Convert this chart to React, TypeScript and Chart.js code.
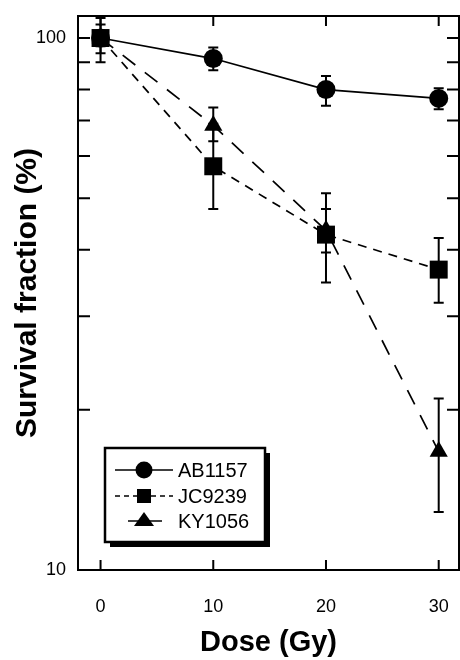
import React, { useEffect, useRef } from "react";
import { Chart, registerables } from "chart.js";

Chart.register(...registerables);

const doses = [0, 10, 20, 30];
const seriesNames = ["AB1157", "JC9239", "KY1056"];
const ab1157 = [100, 91.5, 80, 77];
const ab1157Lo = [93.6, 87, 74.6, 73.5];
const ab1157Hi = [106, 96, 84.8, 80.5];
const jc9239 = [100, 57.4, 42.7, 36.7];
const jc9239Lo = [90, 47.7, 34.7, 31.8];
const jc9239Hi = [109, 69, 51.1, 42.1];
const ky1056 = [100, 68.5, 43.5, 16.7];
const ky1056Lo = [96.5, 64, 39.5, 12.85];
const ky1056Hi = [103, 74, 47.7, 21];
const xTicks = [0, 10, 20, 30];
const yLabelTicks = [10, 100];
const yFrameTicks = [20, 30, 40, 50, 60, 70, 80, 90, 100];

const FONT = "'Liberation Sans', Arial, sans-serif";

const values = [ab1157, jc9239, ky1056];
const lows = [ab1157Lo, jc9239Lo, ky1056Lo];
const highs = [ab1157Hi, jc9239Hi, ky1056Hi];
const styles = [
  { dash: [] as number[], point: "circle", radius: 9.5 },
  { dash: [9, 7], point: "rect", radius: 12.7 },
  { dash: [16, 12], point: "triangle", radius: 10.5 },
];

const customPlugin = {
  id: "custom",
  beforeDatasetsDraw(chart: any) {
    const ctx = chart.ctx;
    const xs = chart.scales.x;
    const ys = chart.scales.y;
    ctx.save();
    ctx.strokeStyle = "#000";
    ctx.lineWidth = 2;
    for (let i = 0; i < values.length; i++) {
      for (let j = 0; j < doses.length; j++) {
        const x = xs.getPixelForValue(doses[j]);
        const yl = ys.getPixelForValue(lows[i][j]);
        const yh = ys.getPixelForValue(highs[i][j]);
        ctx.beginPath();
        ctx.moveTo(x, yh);
        ctx.lineTo(x, yl);
        ctx.moveTo(x - 5, yh);
        ctx.lineTo(x + 5, yh);
        ctx.moveTo(x - 5, yl);
        ctx.lineTo(x + 5, yl);
        ctx.stroke();
      }
    }
    ctx.restore();
  },
  afterDraw(chart: any) {
    const ctx = chart.ctx;
    const { left, right, top, bottom } = chart.chartArea;
    const xs = chart.scales.x;
    const ys = chart.scales.y;
    ctx.save();
    ctx.strokeStyle = "#000";
    ctx.lineWidth = 2;
    ctx.strokeRect(left, top, right - left, bottom - top);
    ctx.beginPath();
    for (const v of xTicks) {
      const x = xs.getPixelForValue(v);
      ctx.moveTo(x, bottom);
      ctx.lineTo(x, bottom - 10);
      ctx.moveTo(x, top);
      ctx.lineTo(x, top + 10);
    }
    for (const v of yFrameTicks) {
      const y = ys.getPixelForValue(v);
      ctx.moveTo(left, y);
      ctx.lineTo(left + 12, y);
      ctx.moveTo(right, y);
      ctx.lineTo(right - 12, y);
    }
    ctx.stroke();

    // legend
    const lx = left + 27;
    const ly = bottom - 122;
    const lw = 160;
    const lh = 94;
    ctx.fillStyle = "#000";
    ctx.fillRect(lx + 5, ly + 5, lw, lh);
    ctx.fillStyle = "#fff";
    ctx.fillRect(lx, ly, lw, lh);
    ctx.lineWidth = 2.5;
    ctx.strokeRect(lx, ly, lw, lh);

    const rowY = [ly + 22, ly + 48, ly + 73];
    const mx = lx + 39;
    ctx.lineWidth = 1.5;
    ctx.fillStyle = "#000";
    ctx.beginPath();
    ctx.moveTo(lx + 10, rowY[0]);
    ctx.lineTo(lx + 68, rowY[0]);
    ctx.stroke();
    ctx.beginPath();
    ctx.arc(mx, rowY[0], 8.5, 0, Math.PI * 2);
    ctx.fill();
    ctx.setLineDash([5, 4]);
    ctx.beginPath();
    ctx.moveTo(lx + 10, rowY[1]);
    ctx.lineTo(lx + 68, rowY[1]);
    ctx.stroke();
    ctx.setLineDash([]);
    ctx.fillRect(mx - 7, rowY[1] - 7, 14, 14);
    ctx.beginPath();
    ctx.moveTo(lx + 23, rowY[2]);
    ctx.lineTo(lx + 57, rowY[2]);
    ctx.stroke();
    ctx.beginPath();
    ctx.moveTo(mx, rowY[2] - 9);
    ctx.lineTo(mx + 10, rowY[2] + 5);
    ctx.lineTo(mx - 10, rowY[2] + 5);
    ctx.closePath();
    ctx.fill();

    ctx.font = `20px ${FONT}`;
    ctx.textBaseline = "middle";
    ctx.textAlign = "left";
    for (let i = 0; i < seriesNames.length; i++) {
      ctx.fillText(seriesNames[i], lx + 73, rowY[i] + 1);
    }
    ctx.restore();
  },
};

export default function App() {
  const ref = useRef<HTMLCanvasElement | null>(null);
  useEffect(() => {
    if (!ref.current) return;
    const chart = new Chart(ref.current, {
      type: "line",
      data: {
        datasets: seriesNames.map((name, i) => ({
          label: name,
          data: doses.map((d, j) => ({ x: d, y: values[i][j] })),
          borderColor: "#000",
          backgroundColor: "#000",
          borderWidth: 1.7,
          borderDash: styles[i].dash,
          pointStyle: styles[i].point as any,
          pointRadius: styles[i].radius,
          pointHoverRadius: styles[i].radius,
          pointBackgroundColor: "#000",
          pointBorderColor: "#000",
          pointBorderWidth: 0,
          fill: false,
          tension: 0,
        })),
      },
      options: {
        animation: false,
        responsive: false,
        devicePixelRatio: 1,
        layout: { autoPadding: false, padding: { top: 16, right: 1, left: 0, bottom: 0 } },
        plugins: { legend: { display: false }, tooltip: { enabled: false } },
        scales: {
          x: {
            type: "linear",
            min: -2,
            max: 31.8,
            afterBuildTicks: (s: any) => {
              s.ticks = xTicks.map((v) => ({ value: v }));
            },
            afterFit: (s: any) => {
              s.height = 90;
              s.paddingLeft = 0;
              s.paddingRight = 0;
            },
            grid: { display: false, drawTicks: false },
            border: { display: false },
            ticks: {
              color: "#000",
              font: { family: FONT, size: 18 },
              padding: 26,
              maxRotation: 0,
              callback: (v: any) => String(v),
            },
            title: {
              display: true,
              text: "Dose (Gy)",
              color: "#000",
              font: { family: FONT, size: 29, weight: "bold" },
              padding: 0,
            },
          },
          y: {
            type: "logarithmic",
            min: 10,
            max: 110,
            afterBuildTicks: (s: any) => {
              s.ticks = yLabelTicks.map((v) => ({ value: v }));
            },
            afterFit: (s: any) => {
              s.width = 78;
              s.paddingTop = 0;
              s.paddingBottom = 0;
            },
            grid: { display: false, drawTicks: false },
            border: { display: false },
            ticks: {
              color: "#000",
              font: { family: FONT, size: 18 },
              padding: 12,
              callback: (v: any) => String(v),
            },
            title: {
              display: true,
              text: "Survival fraction (%)",
              color: "#000",
              font: { family: FONT, size: 30, weight: "bold" },
              padding: { top: 10, bottom: 0 },
            },
          },
        },
      },
      plugins: [customPlugin],
    });
    return () => chart.destroy();
  }, []);
  return (
    <div style={{ position: "absolute", left: 0, top: 0, width: 460, height: 660, background: "#fff" }}>
      <canvas ref={ref} width={460} height={660} />
    </div>
  );
}
